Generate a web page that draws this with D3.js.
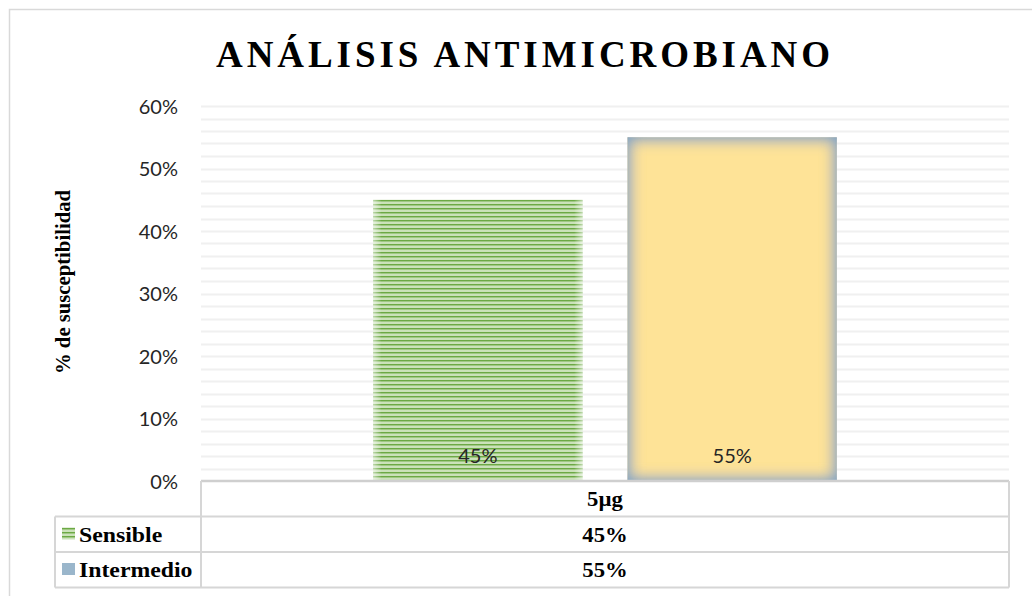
<!DOCTYPE html>
<html>
<head>
<meta charset="utf-8">
<script src="https://cdn.jsdelivr.net/npm/d3@7"></script>
<style>
  html, body { margin: 0; padding: 0; background: #fff; }
  svg { display: block; }
</style>
</head>
<body>
<svg id="chart" width="1032" height="596"></svg>
<script>
// Chart data
const categories = ["5µg"];
const seriesNames = ["Sensible", "Intermedio"];
const sensibleValues = [0.45];
const intermedioValues = [0.55];
const yTickValues = [0, 0.1, 0.2, 0.3, 0.4, 0.5, 0.6];
const chartTitle = "ANÁLISIS ANTIMICROBIANO";
const yAxisTitle = "% de susceptibilidad";

const seriesValues = [sensibleValues, intermedioValues];

const svg = d3.select("#chart");
const W = 1032, H = 596;
const plot = { left: 201, right: 1009, top: 106, bottom: 481 };
const rowH = 35.5;
const legendLeft = 55;

const serif = "'Liberation Serif', 'Times New Roman', serif";
const sans = "Lato, 'Open Sans', sans-serif";
const stretch = 1.08;

const defs = svg.append("defs");

// Narrow horizontal stripe pattern for the "Sensible" series
const stripe = defs.append("pattern")
  .attr("id", "greenStripes")
  .attr("patternUnits", "userSpaceOnUse")
  .attr("width", 8).attr("height", 4);
stripe.append("rect").attr("width", 8).attr("height", 4).attr("fill", "#e3efda");
stripe.append("rect").attr("y", 0).attr("width", 8).attr("height", 1.6).attr("fill", "#6ca944");
stripe.append("rect").attr("y", 1.6).attr("width", 8).attr("height", 0.8).attr("fill", "#a7cf8b");
stripe.append("rect").attr("y", 3.4).attr("width", 8).attr("height", 0.6).attr("fill", "#b9d9a3");

// Inner blue-grey glow for the "Intermedio" bar
const glow = defs.append("filter").attr("id", "innerGlow")
  .attr("x", "-20%").attr("y", "-20%").attr("width", "140%").attr("height", "140%");
glow.append("feFlood").attr("flood-color", "#7fa4c4").attr("result", "flood");
glow.append("feComposite").attr("in", "flood").attr("in2", "SourceAlpha").attr("operator", "out").attr("result", "outside");
glow.append("feGaussianBlur").attr("in", "outside").attr("stdDeviation", 8).attr("result", "blurred");
glow.append("feComposite").attr("in", "blurred").attr("in2", "SourceAlpha").attr("operator", "in").attr("result", "edge");
const merge = glow.append("feMerge");
merge.append("feMergeNode").attr("in", "SourceGraphic");
merge.append("feMergeNode").attr("in", "edge");
merge.append("feMergeNode").attr("in", "edge");

// Soft light edges for the striped bar
const softEdge = defs.append("linearGradient").attr("id", "softEdge");
[[0, 0.55], [0.04, 0], [0.96, 0], [1, 0.55]].forEach(([o, a]) => {
  softEdge.append("stop").attr("offset", o).attr("stop-color", "#ffffff").attr("stop-opacity", a);
});

const seriesFill = ["url(#greenStripes)", "#fee397"];
const legendFill = ["url(#greenStripes)", "#9ab6cb"];

// Outer chart frame
svg.append("rect")
  .attr("x", 9.5).attr("y", 9.5).attr("width", W + 10).attr("height", H + 10)
  .attr("fill", "none").attr("stroke", "#d9d9d9").attr("stroke-width", 1.5);

// Scales
const y = d3.scaleLinear().domain([0, 0.6]).range([plot.bottom, plot.top]);
const xCat = d3.scaleBand().domain(categories).range([plot.left, plot.right]).padding(0);
const xSeries = d3.scaleBand().domain(seriesNames).range([0, xCat.bandwidth()])
  .paddingInner(0.177).paddingOuter(0.677);

// Gridlines every 2%
const gridTicks = d3.range(1, 31).map(i => i * 0.02);
svg.append("g").selectAll("line").data(gridTicks).join("line")
  .attr("x1", plot.left).attr("x2", plot.right)
  .attr("y1", d => Math.round(y(d)) + 0.5).attr("y2", d => Math.round(y(d)) + 0.5)
  .attr("stroke", "#f0f0f0").attr("stroke-width", 2);

// Y axis tick labels
const yAxis = d3.axisLeft(y).tickValues(yTickValues).tickFormat(d3.format(".0%")).tickSize(0).tickPadding(0);
const yG = svg.append("g").attr("transform", `translate(178,0)`).call(yAxis);
yG.select(".domain").remove();
yG.selectAll("text")
  .attr("font-family", sans).attr("font-size", 20).attr("fill", "#262626")
  .attr("dy", "0.35em");

// Bars
const bars = svg.append("g");
seriesNames.forEach((name, si) => {
  categories.forEach((cat, ci) => {
    const v = seriesValues[si][ci];
    const x0 = xCat(cat) + xSeries(name);
    const r = bars.append("rect")
      .attr("x", x0).attr("y", y(v))
      .attr("width", xSeries.bandwidth()).attr("height", y(0) - y(v))
      .attr("fill", seriesFill[si]);
    if (si === 1) r.attr("filter", "url(#innerGlow)");
    if (si === 0) {
      bars.append("rect")
        .attr("x", x0).attr("y", y(v))
        .attr("width", xSeries.bandwidth()).attr("height", y(0) - y(v))
        .attr("fill", "url(#softEdge)");
    }
    // Value label at the inside base of the bar
    bars.append("text")
      .attr("x", x0 + xSeries.bandwidth() / 2)
      .attr("y", y(0) - 25)
      .attr("dy", "0.35em")
      .attr("text-anchor", "middle")
      .attr("font-family", sans).attr("font-size", 20).attr("fill", "#262626")
      .text(d3.format(".0%")(v));
  });
});

// Helper: bold serif text, slightly widened
function stretchedText(g, x, yy, txt, size, anchor) {
  const t = g.append("text")
    .attr("x", x).attr("y", yy)
    .attr("text-anchor", anchor || "middle")
    .attr("font-family", serif).attr("font-weight", "bold")
    .attr("font-size", size).attr("fill", "#000")
    .text(txt);
  const w = t.node().getComputedTextLength();
  t.attr("textLength", w * stretch).attr("lengthAdjust", "spacingAndGlyphs");
  return t;
}

// Data table under the plot
const table = svg.append("g");
const lineColor = "#d6d6d6";
const rowsTop = plot.bottom;
const r1 = rowsTop + rowH, r2 = r1 + rowH, r3 = r2 + rowH;
table.append("line").attr("x1", plot.left).attr("x2", plot.right).attr("y1", rowsTop).attr("y2", rowsTop)
  .attr("stroke", "#cfcfcf").attr("stroke-width", 2.5);
[r1, r2, r3].forEach(yy => {
  table.append("line").attr("x1", legendLeft).attr("x2", plot.right).attr("y1", yy).attr("y2", yy)
    .attr("stroke", lineColor).attr("stroke-width", 2);
});
table.append("line").attr("x1", plot.left).attr("x2", plot.left).attr("y1", rowsTop).attr("y2", r3)
  .attr("stroke", lineColor).attr("stroke-width", 2);
table.append("line").attr("x1", plot.right).attr("x2", plot.right).attr("y1", rowsTop).attr("y2", r3)
  .attr("stroke", lineColor).attr("stroke-width", 2);
table.append("line").attr("x1", legendLeft).attr("x2", legendLeft).attr("y1", r1).attr("y2", r3)
  .attr("stroke", lineColor).attr("stroke-width", 2);

// Header row: category
categories.forEach(cat => {
  stretchedText(table, xCat(cat) + xCat.bandwidth() / 2, rowsTop + 25, cat, 21);
});

// Series rows: legend key, name, values
seriesNames.forEach((name, si) => {
  const top = r1 + si * rowH;
  table.append("rect")
    .attr("x", 62).attr("y", top + 11).attr("width", 13).attr("height", 12)
    .attr("fill", legendFill[si]);
  stretchedText(table, 79, top + 25, name, 22, "start");
  categories.forEach((cat, ci) => {
    stretchedText(table, xCat(cat) + xCat.bandwidth() / 2, top + 25,
      d3.format(".0%")(seriesValues[si][ci]), 21);
  });
});

// Y axis title
const yt = svg.append("text")
  .attr("transform", `translate(70,282) rotate(-90)`)
  .attr("text-anchor", "middle")
  .attr("font-family", serif).attr("font-weight", "bold")
  .attr("font-size", 21).attr("fill", "#000")
  .text(yAxisTitle);
yt.attr("textLength", 184).attr("lengthAdjust", "spacingAndGlyphs");

// Chart title
const tt = svg.append("text")
  .attr("x", 523).attr("y", 67)
  .attr("text-anchor", "middle")
  .attr("font-family", serif).attr("font-weight", "bold")
  .attr("font-size", 37).attr("fill", "#000")
  .text(chartTitle);
tt.attr("textLength", 614).attr("lengthAdjust", "spacing");
</script>
</body>
</html>
